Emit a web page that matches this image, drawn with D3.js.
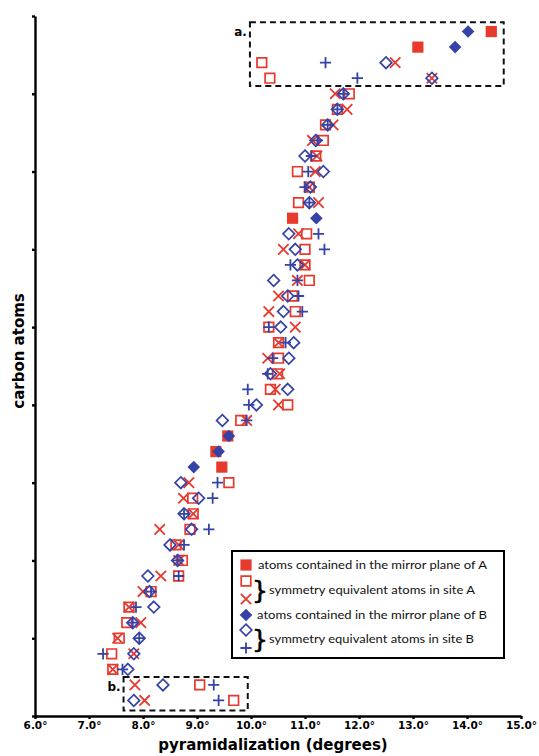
<!DOCTYPE html>
<html>
<head>
<meta charset="utf-8">
<title>pyramidalization</title>
<script src="https://d3js.org/d3.v7.min.js"></script>
<style>
body { margin: 0; background: #fff; }
svg { display: block; }
g.axis path.domain, g.axis line { stroke: #000; stroke-width: 2.4; }
g.axis text { font-family: "DejaVu Sans", sans-serif; font-weight: bold; font-size: 10.5px; fill: #000; }
text.title { font-family: "DejaVu Sans", sans-serif; font-weight: bold; font-size: 15px; fill: #000; }
text.boxlabel { font-family: "DejaVu Sans", sans-serif; font-weight: bold; font-size: 12px; }
text.legend { font-family: Lato, sans-serif; font-size: 12px; fill: #111; }
rect.zoombox { fill: none; stroke: #111; stroke-width: 2; stroke-dasharray: 6 4; }
</style>
</head>
<body>
<svg id="chart" width="539" height="756"></svg>
<script>
// rows (carbon atoms) counted from the bottom of the axis
let mirrorRows = [16, 17, 18, 32, 43, 44];
let mirrorA = [9.46, 9.35, 9.57, 10.77, 13.09, 14.45];
let mirrorB = [8.94, 9.40, 9.59, 11.21, 13.78, 14.02];

let symRows = d3.range(1, 45).filter(function(r) { return mirrorRows.indexOf(r) < 0; });
let squareA = [9.68, 9.05, 7.44, 7.42, 7.56, 7.70, 7.74, 8.15, 8.66, 8.73, 8.61, 8.87, 8.93, 8.92, 9.59,
    9.81, 10.68, 10.36, 10.49, 10.51, 10.51, 10.33, 10.82, 10.77, 11.08, 11.00, 11.00, 11.03,
    10.88, 11.08, 10.86, 11.20, 11.34, 11.38, 11.60, 11.82, 10.35, 10.20];
let crossA = [8.03, 7.85, 7.44, 7.83, 7.53, 7.96, 7.74, 8.00, 8.33, 8.66, 8.66, 8.31, 8.93, 8.75, 8.85,
    9.92, 10.51, 10.45, 10.53, 10.31, 10.51, 10.82, 10.33, 10.51, 10.86, 11.00, 10.60, 10.88,
    11.25, 11.08, 11.19, 11.22, 11.14, 11.52, 11.78, 11.56, 13.35, 12.67];
let diamondB = [7.83, 8.37, 7.72, 7.83, 7.93, 7.81, 8.20, 8.12, 8.09, 8.64, 8.50, 8.90, 8.76, 9.03, 8.70,
    9.47, 10.10, 10.68, 10.36, 10.70, 10.79, 10.55, 10.60, 10.68, 10.42, 10.86, 10.82, 10.70,
    11.08, 11.10, 11.34, 11.00, 11.20, 11.42, 11.60, 11.71, 13.35, 12.50];
let plusB = [9.40, 9.31, 7.62, 7.26, 7.93, 7.81, 7.87, 8.15, 8.66, 8.64, 8.76, 9.22, 8.76, 9.29, 9.38,
    9.92, 9.96, 9.94, 10.31, 10.40, 10.64, 10.33, 10.95, 10.88, 10.86, 10.73, 11.36, 11.25,
    11.08, 11.00, 11.06, 11.12, 11.23, 11.42, 11.60, 11.71, 11.97, 11.38];

let xTicks = [6, 7, 8, 9, 10, 11, 12, 13, 14, 15];
let yTicks = [0, 5, 10, 15, 20, 25, 30, 35, 40, 45];
// dashed boxes: [x0, x1, row0, row1, label]
let boxA = [9.98, 14.68, 40.5, 44.6, 'a.'];
let boxB = [7.64, 9.94, 0.35, 2.5, 'b.'];
let legendLabels = [
    'atoms contained in the mirror plane of A',
    'symmetry equivalent atoms in site A',
    'atoms contained in the mirror plane of B',
    'symmetry equivalent atoms in site B'
];

let red = '#e8392d';
let blue = '#3543a6';

let svg = d3.select('#chart');
let x = d3.scaleLinear().domain([6, 15]).range([35, 521]);
let y = d3.scaleLinear().domain([0, 45]).range([716, 16]);

function squarePath(s) { return 'M' + (-s) + ',' + (-s) + 'h' + (2 * s) + 'v' + (2 * s) + 'h' + (-2 * s) + 'Z'; }
function diamondPath(s) { return 'M0,' + (-s) + 'L' + s + ',0L0,' + s + 'L' + (-s) + ',0Z'; }
function crossPath(s) { return 'M' + (-s) + ',' + (-s) + 'L' + s + ',' + s + 'M' + (-s) + ',' + s + 'L' + s + ',' + (-s); }
function plusPath(s) { return 'M' + (-s) + ',0H' + s + 'M0,' + (-s) + 'V' + s; }

let styles = {
    sqA: { d: squarePath(4.8), fill: 'none', stroke: red, sw: 1.7 },
    xA: { d: crossPath(5.2), fill: 'none', stroke: red, sw: 1.8 },
    mA: { d: squarePath(5.6), fill: red, stroke: 'none', sw: 0 },
    diB: { d: diamondPath(5.8), fill: 'none', stroke: blue, sw: 1.7 },
    plB: { d: plusPath(5.6), fill: 'none', stroke: blue, sw: 1.8 },
    mB: { d: diamondPath(6.3), fill: blue, stroke: 'none', sw: 0 }
};

let series = [
    { rows: symRows, vals: squareA, st: styles.sqA },
    { rows: symRows, vals: crossA, st: styles.xA },
    { rows: mirrorRows, vals: mirrorA, st: styles.mA },
    { rows: symRows, vals: diamondB, st: styles.diB },
    { rows: symRows, vals: plusB, st: styles.plB },
    { rows: mirrorRows, vals: mirrorB, st: styles.mB }
];

// dashed boxes first, markers on top
[boxA, boxB].forEach(function(b) {
    svg.append('rect')
        .classed('zoombox', true)
        .attr('x', x(b[0]))
        .attr('y', y(b[3]))
        .attr('width', x(b[1]) - x(b[0]))
        .attr('height', y(b[2]) - y(b[3]));
    svg.append('text')
        .classed('boxlabel', true)
        .attr('x', x(b[0]) - 3)
        .attr('y', y(b[3]) + 14)
        .attr('text-anchor', 'end')
        .text(b[4]);
});

series.forEach(function(s) {
    let pts = s.vals.map(function(v, i) { return { row: s.rows[i], v: v }; });
    svg.append('g').selectAll('path').data(pts)
        .join('path')
        .attr('transform', function(d) { return 'translate(' + x(d.v) + ',' + y(d.row) + ')'; })
        .attr('d', s.st.d)
        .attr('fill', s.st.fill)
        .attr('stroke', s.st.stroke)
        .attr('stroke-width', s.st.sw);
});

// axes
svg.append('g')
    .classed('axis', true)
    .attr('transform', 'translate(0,716)')
    .call(d3.axisBottom(x).tickValues(xTicks).tickSizeInner(3).tickSizeOuter(0)
        .tickFormat(function(d) { return d.toFixed(1) + '°'; }));
svg.append('g')
    .classed('axis', true)
    .attr('transform', 'translate(35,0)')
    .call(d3.axisLeft(y).tickValues(yTicks).tickSizeInner(3).tickSizeOuter(0).tickFormat(''));

svg.append('text')
    .classed('title', true)
    .attr('x', 273)
    .attr('y', 750)
    .attr('text-anchor', 'middle')
    .text('pyramidalization (degrees)');
svg.append('text')
    .classed('title', true)
    .attr('transform', 'translate(24,351) rotate(-90)')
    .attr('text-anchor', 'middle')
    .text('carbon atoms');

// legend
let legend = svg.append('g');
legend.append('rect')
    .attr('x', 232).attr('y', 551).attr('width', 272).attr('height', 107)
    .attr('fill', '#fff').attr('stroke', '#000').attr('stroke-width', 2);

let legendMarks = [
    [styles.mA, 565], [styles.sqA, 581], [styles.xA, 599],
    [styles.mB, 615], [styles.diB, 630], [styles.plB, 648]
];
legend.selectAll('path.mark').data(legendMarks)
    .join('path')
    .classed('mark', true)
    .attr('transform', function(d) { return 'translate(246,' + d[1] + ')'; })
    .attr('d', function(d) { return d[0].d; })
    .attr('fill', function(d) { return d[0].fill; })
    .attr('stroke', function(d) { return d[0].stroke; })
    .attr('stroke-width', function(d) { return d[0].sw; });

let legendText = [[258, 569, 229], [269, 594, 206], [257, 619, 230], [269, 643, 205]];
legend.selectAll('text.legend').data(legendLabels)
    .join('text')
    .classed('legend', true)
    .attr('x', function(d, i) { return legendText[i][0]; })
    .attr('y', function(d, i) { return legendText[i][1]; })
    .attr('textLength', function(d, i) { return legendText[i][2]; })
    .attr('lengthAdjust', 'spacingAndGlyphs')
    .text(function(d) { return d; });

// braces grouping the two symmetry-equivalent markers
[590, 639].forEach(function(cy) {
    legend.append('text')
        .attr('x', 252)
        .attr('y', cy)
        .attr('dominant-baseline', 'central')
        .attr('stroke', '#000')
        .attr('stroke-width', 0.6)
        .style('font-family', 'DejaVu Sans, sans-serif')
        .style('font-size', '25px')
        .text('}');
});
</script>
</body>
</html>
